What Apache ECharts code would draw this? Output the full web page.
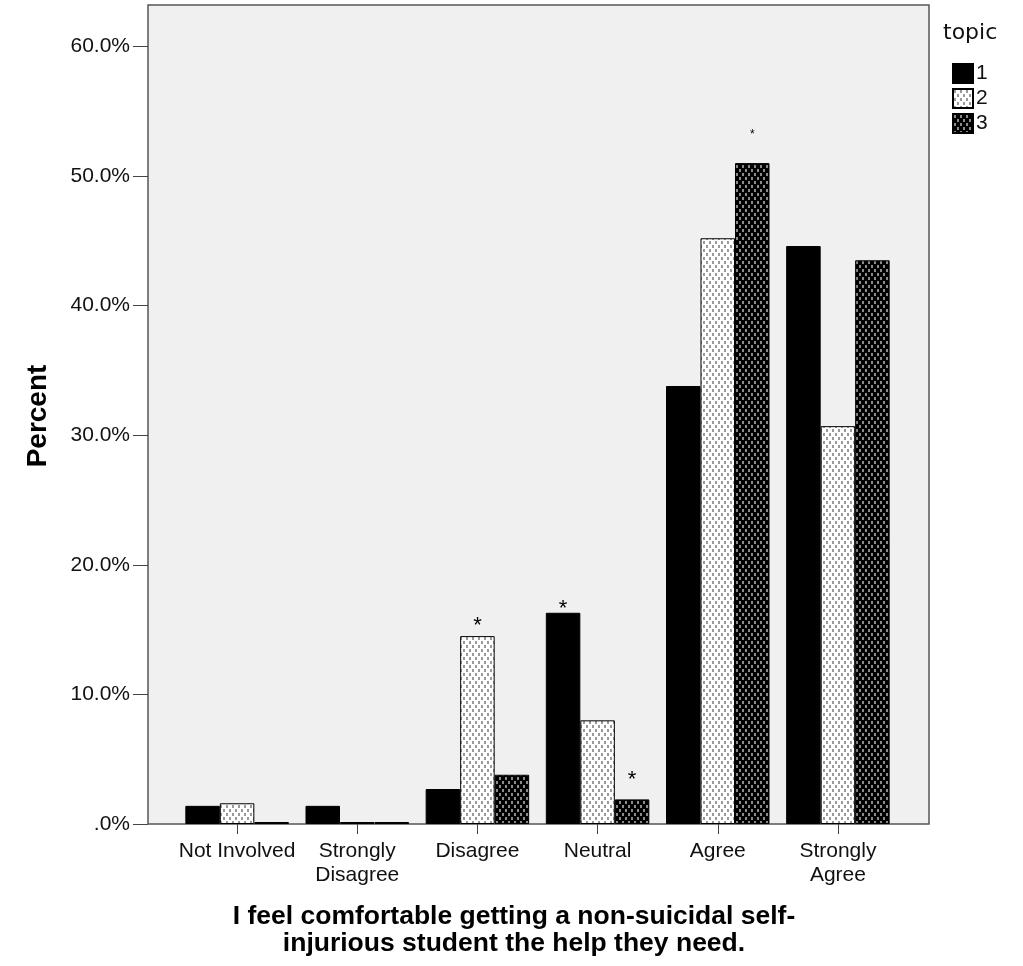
<!DOCTYPE html>
<html>
<head>
<meta charset="utf-8">
<script src="https://cdn.jsdelivr.net/npm/echarts@6/dist/echarts.min.js"></script>
<style>
html,body{margin:0;padding:0;background:#fff;}
#chart{width:1023px;height:966px;}
</style>
</head>
<body>
<div id="chart"></div>
<script>
// ---- data ----
const categories = ['Not Involved', 'Strongly\nDisagree', 'Disagree', 'Neutral', 'Agree', 'Strongly\nAgree'];
const seriesNames = ['1', '2', '3'];
const topic1 = [1.4, 1.4, 2.7, 16.3, 33.8, 44.6];
const topic2 = [1.6, 0, 14.5, 8.0, 45.2, 30.7];
const topic3 = [0, 0, 3.8, 1.9, 51.0, 43.5];
// asterisks: [seriesIndex, categoryIndex]
const stars = [[1, 2], [0, 3], [2, 3], [2, 4]];
const yTickValues = [0, 10, 20, 30, 40, 50, 60];
const yTickLabels = ['.0%', '10.0%', '20.0%', '30.0%', '40.0%', '50.0%', '60.0%'];
const xTitle = 'I feel comfortable getting a non-suicidal self-\ninjurious student the help they need.';
const yTitle = 'Percent';
const legendTitle = 'topic';

// ---- styles ----
const starStyle = {
  '1-2': {dy: 15, size: 22},
  '0-3': {dy: 9, size: 22},
  '2-3': {dy: 24, size: 22},
  '2-4': {dy: 31, size: 12}
};
function makePattern(bg, dot) {
  const c = document.createElement('canvas');
  c.width = 6; c.height = 8;
  const g = c.getContext('2d');
  g.fillStyle = bg; g.fillRect(0, 0, 6, 8);
  g.fillStyle = dot;
  g.fillRect(1, 1, 2, 3);
  g.fillRect(4, 5, 2, 3);
  return {image: c, repeat: 'repeat'};
}
const fills = ['#000000', makePattern('#ffffff', '#9a9a9a'), makePattern('#000000', '#8a8a8a')];
const YMAX = 63.2;
const FONT = 'Liberation Sans, Arial, sans-serif';
const LEGFONT = 'DejaVu Sans, sans-serif';

const chart = echarts.init(document.getElementById('chart'), null, {renderer: 'canvas'});
const allData = [topic1, topic2, topic3];

const series = allData.map((arr, si) => ({
  name: seriesNames[si],
  type: 'bar',
  xAxisIndex: 1,
  yAxisIndex: 1,
  barWidth: 34.5,
  barGap: '0%',
  barMinHeight: 2,
  itemStyle: {color: fills[si], borderColor: '#000', borderWidth: 1},
  emphasis: {disabled: true},
  data: arr.map((v, ci) => {
    const key = si + '-' + ci;
    const isStar = stars.some(s => s[0] === si && s[1] === ci);
    if (!isStar) return v;
    const st = starStyle[key];
    return {
      value: v,
      label: {
        show: true, position: 'top', distance: 0,
        formatter: '*',
        fontFamily: FONT, fontSize: st.size, lineHeight: st.size, color: '#000',
        offset: [0, Math.round(st.size * 0.72) - st.dy]
      }
    };
  })
}));

chart.setOption({
  animation: false,
  backgroundColor: '#ffffff',
  grid: [
    {left: 148, right: 94, top: 5, bottom: 142, show: true, backgroundColor: '#f0f0f0', borderColor: '#555', borderWidth: 1.5},
    {left: 177, right: 125, top: 5, bottom: 142, show: false}
  ],
  xAxis: [
    {gridIndex: 0, type: 'value', show: false, min: 0, max: 1},
    {gridIndex: 1, type: 'category', data: categories,
      axisLine: {show: false},
      axisTick: {show: true, alignWithLabel: true, length: 10, lineStyle: {color: '#444', width: 1}},
      axisLabel: {interval: 0, margin: 15, fontFamily: FONT, fontSize: 21, lineHeight: 24, color: '#111'}
    }
  ],
  yAxis: [
    {gridIndex: 0, type: 'value', min: 0, max: YMAX,
      axisLine: {show: false}, splitLine: {show: false},
      axisTick: {show: true, length: 15, customValues: yTickValues, lineStyle: {color: '#444'}},
      axisLabel: {margin: 18, customValues: yTickValues, fontFamily: FONT, fontSize: 21, color: '#111',
        formatter: v => yTickLabels[yTickValues.indexOf(v)] ?? ''}
    },
    {gridIndex: 1, type: 'value', min: 0, max: YMAX, show: false}
  ],
  legend: {
    orient: 'vertical', left: 952, top: 63, padding: 0,
    itemWidth: 20, itemHeight: 19, itemGap: 4,
    icon: 'rect', selectedMode: false,
    textStyle: {fontFamily: FONT, fontSize: 21, lineHeight: 19, color: '#111', padding: [0, 0, 0, -2]},
    data: seriesNames
  },
  graphic: [
    {type: 'text', x: 943, y: 22, style: {text: legendTitle, font: '22px ' + LEGFONT, fill: '#111', textVerticalAlign: 'top'}},
    {type: 'text', x: 38, y: 416, rotation: Math.PI / 2,
      style: {text: yTitle, font: 'bold 28px ' + FONT, fill: '#000', textAlign: 'center', textVerticalAlign: 'middle'}},
    {type: 'text', x: 514, y: 903,
      style: {text: xTitle, font: 'bold 26.5px ' + FONT, lineHeight: 27, fill: '#000', textAlign: 'center', textVerticalAlign: 'top'}}
  ],
  series: series
});
</script>
</body>
</html>
